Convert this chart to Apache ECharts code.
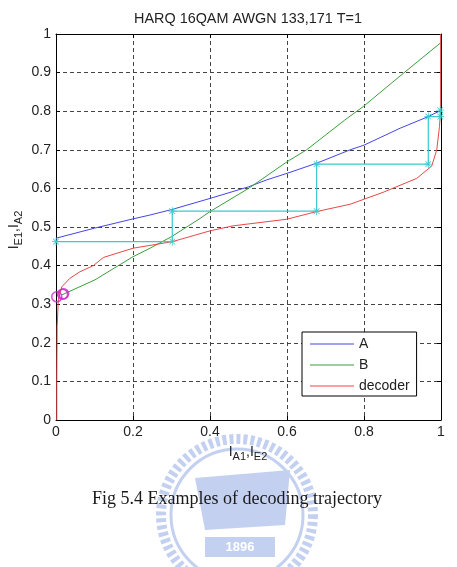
<!DOCTYPE html>
<html lang="en">
<head>
    <meta charset="UTF-8">
    <title>EXIT trajectory</title>
    <script src="https://cdn.jsdelivr.net/npm/echarts@6/dist/echarts.min.js"></script>
    <style>
        html, body { margin: 0; padding: 0; background: #fff; }
        #main { width: 457px; height: 567px; }
    </style>
</head>
<body>
<div id="main"></div>
<script>
    // curves: [I_A1, I_E1]
    var curveA = [[0,0.471],[0.1,0.497],[0.2,0.521],[0.244,0.531],[0.3,0.545],[0.4,0.574],[0.5,0.604],
        [0.547,0.622],[0.6,0.639],[0.679,0.666],[0.764,0.70],[0.8,0.712],[0.894,0.756],[0.967,0.786],[0.993,0.799],[1.0,0.803]];
    var curveB = [[0.015,0.324],[0.101,0.363],[0.2,0.423],[0.244,0.445],[0.3,0.475],[0.374,0.522],[0.4,0.54],
        [0.5,0.60],[0.525,0.617],[0.6,0.669],[0.651,0.70],[0.75,0.777],[0.798,0.812],[0.902,0.898],[1.0,0.978]];
    var curveDecoder = [[0.002,0],[0.002,0.1],[0.003,0.242],[0.006,0.311],[0.015,0.345],[0.036,0.367],[0.062,0.384],
        [0.097,0.40],[0.123,0.421],[0.2,0.445],[0.302,0.462],[0.4,0.49],[0.46,0.503],[0.599,0.52],[0.677,0.54],
        [0.764,0.559],[0.85,0.59],[0.937,0.626],[0.976,0.658],[0.989,0.70],[0.996,0.76],[0.999,0.8],[0.999,1.0]];
    // decoding trajectory (staircase)
    var trajectory = [[0,0.462],[0.302,0.462],[0.302,0.541],[0.677,0.541],[0.677,0.663],[0.967,0.663],
        [0.967,0.786],[0.998,0.786],[0.998,0.803]];
    // start points (magenta circles)
    var startPts = [[0.002,0.319],[0.017,0.326],[0.02,0.327]];
    var legendNames = ['A', 'B', 'decoder'];

    var FONT = '"Liberation Sans", Arial, sans-serif';
    var starPath = 'path://M4.5,0h1v10h-1z M0,4.5h10v1h-10z M1.1,1.8L1.8,1.1L8.9,8.2L8.2,8.9z M8.2,1.1L8.9,1.8L1.8,8.9L1.1,8.2z';

    function axisBase(pos, interval, labels) {
        return {
            type: 'value', position: pos, min: 0, max: 1, interval: interval,
            axisLine: { show: true, onZero: false, lineStyle: { color: '#000', width: 1 } },
            axisTick: { show: true, inside: true, length: 4, lineStyle: { color: '#000' } },
            axisLabel: { show: labels, color: '#222', fontSize: 14, fontFamily: FONT, margin: 5 },
            splitLine: labels ? { show: true, showMinLine: false, showMaxLine: false,
                lineStyle: { color: '#444', type: [4, 3], width: 1 } } : { show: false }
        };
    }

    var myChart = echarts.init(document.getElementById('main'));
    var option = {
        backgroundColor: '#fff',
        animation: false,
        grid: { left: 56, top: 34, width: 385, height: 386, show: false },
        xAxis: [axisBase('bottom', 0.2, true), axisBase('top', 0.2, false)],
        yAxis: [axisBase('left', 0.1, true), axisBase('right', 0.1, false)],
        legend: {
            data: legendNames,
            orient: 'vertical',
            left: 302, top: 332,
            icon: 'rect',
            itemWidth: 44, itemHeight: 1, itemGap: 5,
            padding: [4, 7, 2, 8],
            borderColor: '#000', borderWidth: 1, backgroundColor: '#fff',
            textStyle: { color: '#222', fontSize: 14, fontFamily: FONT, lineHeight: 16 },
            z: 20
        },
        series: [
            { name: 'A', type: 'line', data: curveA, symbol: 'none', clip: false,
              lineStyle: { color: '#4545e6', width: 1 }, itemStyle: { color: '#4545e6' } },
            { name: 'B', type: 'line', data: curveB, symbol: 'none', clip: false,
              lineStyle: { color: '#3c9e3c', width: 1 }, itemStyle: { color: '#3c9e3c' } },
            { name: 'decoder', type: 'line', data: curveDecoder, symbol: 'none', clip: false,
              lineStyle: { color: '#e84848', width: 1 }, itemStyle: { color: '#e84848' } },
            { name: 'trajectory', type: 'line', data: trajectory, clip: false,
              symbol: starPath, symbolSize: 8, showAllSymbol: true,
              lineStyle: { color: '#3ccaca', width: 1.2 }, itemStyle: { color: '#3ccaca' } },
            { name: 'start', type: 'scatter', data: startPts, clip: false, z: 5,
              symbol: 'circle', symbolSize: 10,
              itemStyle: { color: 'rgba(0,0,0,0)', borderColor: '#cc22cc', borderWidth: 1.5 } }
        ],
        graphic: [
            // faint watermark seal
            { type: 'circle', shape: { cx: 237, cy: 515, r: 76 }, silent: true, z: 0,
              style: { fill: 'none', stroke: '#c3d0f0', lineWidth: 10, lineDash: [4, 3] } },
            { type: 'circle', shape: { cx: 237, cy: 515, r: 66 }, silent: true, z: 0,
              style: { fill: 'none', stroke: '#c3d0f0', lineWidth: 3 } },
            { type: 'polygon', shape: { points: [[195, 478], [290, 470], [285, 525], [205, 530]] }, silent: true, z: 0,
              style: { fill: '#c3d0f0' } },
            { type: 'rect', shape: { x: 205, y: 537, width: 70, height: 20 }, silent: true, z: 0,
              style: { fill: '#c3d0f0' } },
            { type: 'text', x: 240, y: 547, silent: true, z: 1,
              style: { text: '1896', fill: '#fff', font: 'bold 13px ' + FONT, align: 'center', verticalAlign: 'middle' } },
            // title
            { type: 'text', x: 248, y: 19, z: 10,
              style: { text: 'HARQ 16QAM AWGN 133,171 T=1', fill: '#222', font: '14.4px ' + FONT,
                       align: 'center', verticalAlign: 'middle' } },
            // x axis label
            { type: 'text', x: 248, y: 452, z: 10,
              style: { text: '{m|I}{s|A1}{m|,I}{s|E2}', align: 'center', verticalAlign: 'middle', fill: '#222',
                       rich: { m: { fontSize: 14, fontFamily: FONT, lineHeight: 20, verticalAlign: 'middle', fill: '#222' },
                               s: { fontSize: 11, fontFamily: FONT, lineHeight: 11, verticalAlign: 'bottom', fill: '#222' } } } },
            // y axis label (rotated)
            { type: 'text', x: 14, y: 230, rotation: Math.PI / 2, z: 10,
              style: { text: '{m|I}{s|E1}{m|,I}{s|A2}', align: 'center', verticalAlign: 'middle', fill: '#222',
                       rich: { m: { fontSize: 14, fontFamily: FONT, lineHeight: 20, verticalAlign: 'middle', fill: '#222' },
                               s: { fontSize: 11, fontFamily: FONT, lineHeight: 11, verticalAlign: 'bottom', fill: '#222' } } } },
            // caption
            { type: 'text', x: 237, y: 499, z: 10,
              style: { text: 'Fig 5.4 Examples of decoding trajectory', fill: '#1a1a1a',
                       font: '18px "Liberation Serif", "Times New Roman", serif', align: 'center', verticalAlign: 'middle' } }
        ]
    };
    myChart.setOption(option, true);
</script>
</body>
</html>
